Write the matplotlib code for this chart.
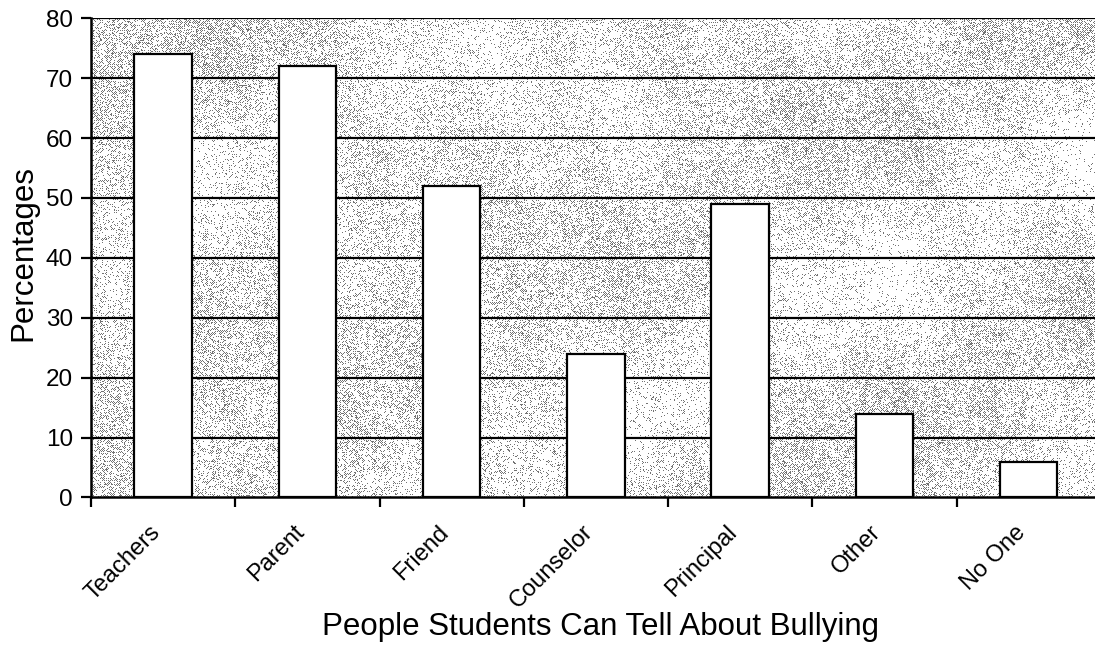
import numpy as np
import matplotlib
matplotlib.use("Agg")
import matplotlib.pyplot as plt
from matplotlib.ticker import FixedLocator

categories = ["Teachers", "Parent", "Friend", "Counselor", "Principal", "Other", "No One"]
percentages = [74, 72, 52, 24, 49, 14, 6]
y_ticks = [0, 10, 20, 30, 40, 50, 60, 70, 80]

plt.rcParams["font.family"] = ["Liberation Sans", "DejaVu Sans"]

fig = plt.figure(figsize=(10.95, 6.52), dpi=100)
ax = fig.add_axes([0.0831, 0.237, 0.9169, 0.735])

# halftone-style grey backdrop for the plot area
rng = np.random.default_rng(7)
h, w = 480, 1004
yy, xx = np.mgrid[0:h, 0:w]
field = (0.5 + 0.22 * np.sin(xx / 71.0) * np.cos(yy / 43.0)
         + 0.18 * np.sin((xx + 2 * yy) / 117.0)
         + 0.1 * np.cos((3 * xx - yy) / 53.0))
checker = ((xx + yy) % 2 == 0)
p_dark = np.clip(0.05 + 0.55 * field, 0, 1)
dots = (rng.random((h, w)) < p_dark) & checker
specks = rng.random((h, w)) < 0.08 * p_dark
tex = np.where(dots | specks, 0.45, 1.0)
ax.imshow(tex, cmap="gray", vmin=0, vmax=1, extent=(-0.5, 6.46, 0, 80),
          aspect="auto", zorder=0, interpolation="nearest")

x = np.arange(len(categories))
ax.bar(x, percentages, width=0.40, color="white", edgecolor="black",
       linewidth=1.6, zorder=3)

ax.set_xlim(-0.5, 6.46)
ax.set_ylim(0, 80)
ax.set_yticks(y_ticks)
for v in y_ticks[1:]:
    ax.axhline(v, color="black", linewidth=1.6, zorder=2)

# labels sit just left of each category centre; tick marks go on the boundaries
ax.set_xticks(x - 0.1)
ax.set_xticklabels(categories, rotation=45, ha="right", rotation_mode="anchor",
                   fontsize=17)
ax.xaxis.set_minor_locator(FixedLocator(np.arange(-0.5, 7.0, 1.0)))
ax.tick_params(axis="x", which="major", length=0, pad=17)
ax.tick_params(axis="x", which="minor", length=7, width=1.6, direction="out")
ax.tick_params(axis="y", length=7, width=1.6, labelsize=17.5, pad=6)

for side in ("top", "right"):
    ax.spines[side].set_visible(False)
ax.spines["left"].set_linewidth(1.8)
ax.spines["bottom"].set_linewidth(1.8)
ax.spines["left"].set_zorder(4)
ax.spines["bottom"].set_zorder(4)

ax.set_ylabel("Percentages", fontsize=22.5)
ax.yaxis.set_label_coords(-0.052, 0.51)
ax.set_xlabel("People Students Can Tell About Bullying", fontsize=22.5)
ax.xaxis.set_label_coords(0.507, -0.238)

fig.savefig("out.png", dpi=100)
